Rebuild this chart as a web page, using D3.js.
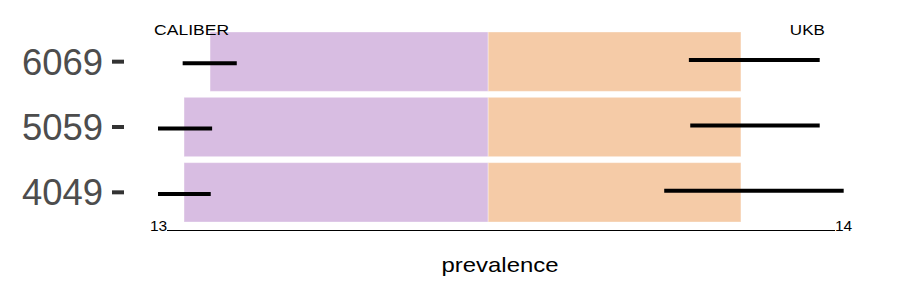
<!DOCTYPE html>
<html>
<head>
<meta charset="utf-8">
<script src="https://cdn.jsdelivr.net/npm/d3@7"></script>
<style>
  html, body { margin: 0; padding: 0; background: #fff; }
  svg { display: block; font-family: "Liberation Sans", Arial, sans-serif; }
</style>
</head>
<body>
<svg id="chart" width="900" height="300"></svg>
<script>
// ---- data ----
const categories = ["6069", "5059", "4049"];
const bandStart = [13.076, 13.038, 13.038];   // purple band start
const bandMid = [13.482, 13.482, 13.482];     // purple/orange split
const bandEnd = [13.851, 13.851, 13.851];     // orange band end
const caliberLow = [13.036, 13.0, 13.0];
const caliberHigh = [13.115, 13.079, 13.077];
const ukbLow = [13.775, 13.777, 13.739];
const ukbHigh = [13.966, 13.966, 14.001];
const xTicks = [13, 14];
const sourceLabels = ["CALIBER", "UKB"];
const sourceLabelPos = [13.049, 13.948];

const svg = d3.select("#chart");
const x = d3.scaleLinear().domain([13, 14]).range([158, 843]);
const y = d3.scaleBand().domain(categories).range([29, 225]).padding(0);

const rows = categories.map((c, i) => ({
  c, s: bandStart[i], m: bandMid[i], e: bandEnd[i],
  cl: caliberLow[i], ch: caliberHigh[i], ul: ukbLow[i], uh: ukbHigh[i]
}));

// background bands
const g = svg.append("g");
g.selectAll("rect.p").data(rows).join("rect")
  .attr("x", d => x(d.s)).attr("width", d => x(d.m) - x(d.s))
  .attr("y", d => y(d.c) + 3).attr("height", y.bandwidth() - 6)
  .attr("fill", "#D8BDE2").attr("stroke", "rgba(255,255,255,0.35)").attr("stroke-width", 1);
g.selectAll("rect.o").data(rows).join("rect")
  .attr("x", d => x(d.m)).attr("width", d => x(d.e) - x(d.m))
  .attr("y", d => y(d.c) + 3).attr("height", y.bandwidth() - 6)
  .attr("fill", "#F5CBA7").attr("stroke", "rgba(255,255,255,0.35)").attr("stroke-width", 1);

// ranges
const mid = c => y(c) + y.bandwidth() / 2;
g.selectAll("line.cal").data(rows).join("line")
  .attr("x1", d => x(d.cl)).attr("x2", d => x(d.ch))
  .attr("y1", d => mid(d.c) + 1.6).attr("y2", d => mid(d.c) + 1.6)
  .attr("stroke", "#000").attr("stroke-width", 4);
g.selectAll("line.ukb").data(rows).join("line")
  .attr("x1", d => x(d.ul)).attr("x2", d => x(d.uh))
  .attr("y1", d => mid(d.c) - 1.6).attr("y2", d => mid(d.c) - 1.6)
  .attr("stroke", "#000").attr("stroke-width", 4);

// y axis labels + ticks
const ya = svg.append("g");
ya.selectAll("text").data(categories).join("text")
  .attr("x", 103).attr("y", d => mid(d)).attr("dy", "0.36em")
  .attr("text-anchor", "end").attr("fill", "#4D4D4D")
  .attr("font-size", 36).attr("textLength", 81).attr("lengthAdjust", "spacingAndGlyphs")
  .text(d => d);
ya.selectAll("line").data(categories).join("line")
  .attr("x1", 112).attr("x2", 124)
  .attr("y1", d => mid(d)).attr("y2", d => mid(d))
  .attr("stroke", "#333").attr("stroke-width", 4);

// x axis
svg.append("line")
  .attr("x1", x(13) + 9).attr("x2", x(14) - 8)
  .attr("y1", 230.5).attr("y2", 230.5)
  .attr("stroke", "#000").attr("stroke-width", 1);
svg.selectAll("text.xt").data(xTicks).join("text")
  .attr("class", "xt")
  .attr("x", d => x(d) + 0.5).attr("y", 231)
  .attr("text-anchor", "middle").attr("font-size", 15.5).attr("fill", "#000")
  .text(d => d);

// source labels
const srcWidths = [75, 35];
svg.selectAll("text.src").data(sourceLabels).join("text")
  .attr("class", "src")
  .attr("x", (d, i) => x(sourceLabelPos[i])).attr("y", 34.5)
  .attr("text-anchor", "middle").attr("font-size", 15).attr("fill", "#000")
  .attr("textLength", (d, i) => srcWidths[i]).attr("lengthAdjust", "spacingAndGlyphs")
  .text(d => d);

// x title
svg.append("text")
  .attr("x", 500).attr("y", 271.5)
  .attr("text-anchor", "middle").attr("font-size", 21).attr("fill", "#000")
  .attr("textLength", 117).attr("lengthAdjust", "spacingAndGlyphs")
  .text("prevalence");
</script>
</body>
</html>
